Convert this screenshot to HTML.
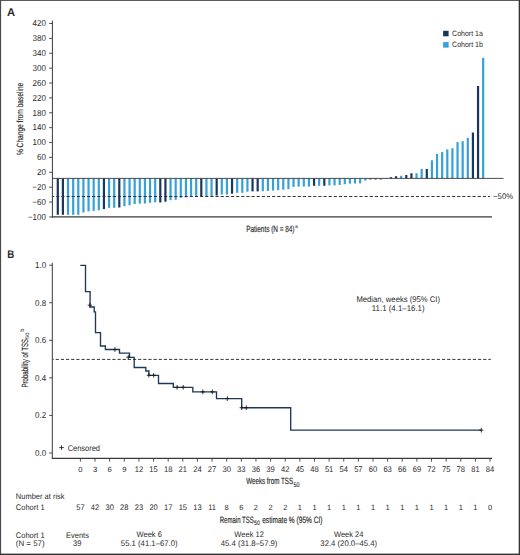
<!DOCTYPE html><html><head><meta charset="utf-8"><style>html,body{margin:0;padding:0;background:#fff;}svg{display:block;}svg text{text-rendering:geometricPrecision;}text{font-family:"Liberation Sans",sans-serif;fill:#2a2a2a;}</style></head><body>
<svg width="520" height="555" viewBox="0 0 520 555">
<rect x="0" y="0" width="520" height="555" fill="#fff"/>
<text x="6.9" y="16.2" font-size="11.2" font-weight="bold">A</text>
<line x1="52.4" y1="20.6" x2="52.4" y2="217.4" stroke="#3a3a3a" stroke-width="1"/>
<line x1="49.2" y1="23.50" x2="52.4" y2="23.50" stroke="#3a3a3a" stroke-width="0.9"/>
<text x="45.9" y="26.30" font-size="8.64" text-anchor="end" textLength="13.35" lengthAdjust="spacingAndGlyphs">420</text>
<line x1="49.2" y1="38.38" x2="52.4" y2="38.38" stroke="#3a3a3a" stroke-width="0.9"/>
<text x="45.9" y="41.18" font-size="8.64" text-anchor="end" textLength="13.35" lengthAdjust="spacingAndGlyphs">380</text>
<line x1="49.2" y1="53.26" x2="52.4" y2="53.26" stroke="#3a3a3a" stroke-width="0.9"/>
<text x="45.9" y="56.06" font-size="8.64" text-anchor="end" textLength="13.35" lengthAdjust="spacingAndGlyphs">340</text>
<line x1="49.2" y1="68.14" x2="52.4" y2="68.14" stroke="#3a3a3a" stroke-width="0.9"/>
<text x="45.9" y="70.94" font-size="8.64" text-anchor="end" textLength="13.35" lengthAdjust="spacingAndGlyphs">300</text>
<line x1="49.2" y1="83.02" x2="52.4" y2="83.02" stroke="#3a3a3a" stroke-width="0.9"/>
<text x="45.9" y="85.82" font-size="8.64" text-anchor="end" textLength="13.35" lengthAdjust="spacingAndGlyphs">260</text>
<line x1="49.2" y1="97.90" x2="52.4" y2="97.90" stroke="#3a3a3a" stroke-width="0.9"/>
<text x="45.9" y="100.70" font-size="8.64" text-anchor="end" textLength="13.35" lengthAdjust="spacingAndGlyphs">220</text>
<line x1="49.2" y1="112.78" x2="52.4" y2="112.78" stroke="#3a3a3a" stroke-width="0.9"/>
<text x="45.9" y="115.58" font-size="8.64" text-anchor="end" textLength="13.35" lengthAdjust="spacingAndGlyphs">180</text>
<line x1="49.2" y1="127.66" x2="52.4" y2="127.66" stroke="#3a3a3a" stroke-width="0.9"/>
<text x="45.9" y="130.46" font-size="8.64" text-anchor="end" textLength="13.35" lengthAdjust="spacingAndGlyphs">140</text>
<line x1="49.2" y1="142.54" x2="52.4" y2="142.54" stroke="#3a3a3a" stroke-width="0.9"/>
<text x="45.9" y="145.34" font-size="8.64" text-anchor="end" textLength="13.35" lengthAdjust="spacingAndGlyphs">100</text>
<line x1="49.2" y1="157.42" x2="52.4" y2="157.42" stroke="#3a3a3a" stroke-width="0.9"/>
<text x="45.9" y="160.22" font-size="8.64" text-anchor="end" textLength="8.9" lengthAdjust="spacingAndGlyphs">60</text>
<line x1="49.2" y1="172.30" x2="52.4" y2="172.30" stroke="#3a3a3a" stroke-width="0.9"/>
<text x="45.9" y="175.10" font-size="8.64" text-anchor="end" textLength="8.9" lengthAdjust="spacingAndGlyphs">20</text>
<line x1="49.2" y1="187.18" x2="52.4" y2="187.18" stroke="#3a3a3a" stroke-width="0.9"/>
<text x="45.9" y="189.98" font-size="8.64" text-anchor="end" textLength="13.57" lengthAdjust="spacingAndGlyphs">−20</text>
<line x1="49.2" y1="202.06" x2="52.4" y2="202.06" stroke="#3a3a3a" stroke-width="0.9"/>
<text x="45.9" y="204.86" font-size="8.64" text-anchor="end" textLength="13.57" lengthAdjust="spacingAndGlyphs">−60</text>
<line x1="49.2" y1="216.94" x2="52.4" y2="216.94" stroke="#3a3a3a" stroke-width="0.9"/>
<text x="45.9" y="219.74" font-size="8.64" text-anchor="end" textLength="18.02" lengthAdjust="spacingAndGlyphs">−100</text>
<line x1="51.9" y1="216.9" x2="492" y2="216.9" stroke="#3a3a3a" stroke-width="1.1"/>
<rect x="56.70" y="178.40" width="2.2" height="36.40" fill="#1b365d"/>
<rect x="61.82" y="178.40" width="2.2" height="36.40" fill="#1b365d"/>
<rect x="66.95" y="178.40" width="2.2" height="36.40" fill="#36a1d8"/>
<rect x="72.08" y="178.40" width="2.2" height="36.40" fill="#36a1d8"/>
<rect x="77.20" y="178.40" width="2.2" height="36.40" fill="#36a1d8"/>
<rect x="82.33" y="178.40" width="2.2" height="34.10" fill="#36a1d8"/>
<rect x="87.45" y="178.40" width="2.2" height="33.00" fill="#36a1d8"/>
<rect x="92.58" y="178.40" width="2.2" height="32.50" fill="#36a1d8"/>
<rect x="97.70" y="178.40" width="2.2" height="31.80" fill="#36a1d8"/>
<rect x="102.83" y="178.40" width="2.2" height="30.70" fill="#1b365d"/>
<rect x="107.95" y="178.40" width="2.2" height="29.40" fill="#36a1d8"/>
<rect x="113.08" y="178.40" width="2.2" height="29.40" fill="#36a1d8"/>
<rect x="118.20" y="178.40" width="2.2" height="29.10" fill="#1b365d"/>
<rect x="123.33" y="178.40" width="2.2" height="27.90" fill="#36a1d8"/>
<rect x="128.45" y="178.40" width="2.2" height="26.90" fill="#36a1d8"/>
<rect x="133.58" y="178.40" width="2.2" height="25.60" fill="#36a1d8"/>
<rect x="138.70" y="178.40" width="2.2" height="25.30" fill="#36a1d8"/>
<rect x="143.83" y="178.40" width="2.2" height="25.10" fill="#36a1d8"/>
<rect x="148.95" y="178.40" width="2.2" height="24.40" fill="#36a1d8"/>
<rect x="154.08" y="178.40" width="2.2" height="23.80" fill="#36a1d8"/>
<rect x="159.20" y="178.40" width="2.2" height="24.10" fill="#1b365d"/>
<rect x="164.33" y="178.40" width="2.2" height="23.30" fill="#1b365d"/>
<rect x="169.45" y="178.40" width="2.2" height="21.80" fill="#36a1d8"/>
<rect x="174.58" y="178.40" width="2.2" height="21.40" fill="#36a1d8"/>
<rect x="179.70" y="178.40" width="2.2" height="19.40" fill="#36a1d8"/>
<rect x="184.83" y="178.40" width="2.2" height="19.00" fill="#36a1d8"/>
<rect x="189.95" y="178.40" width="2.2" height="18.20" fill="#36a1d8"/>
<rect x="195.08" y="178.40" width="2.2" height="18.20" fill="#36a1d8"/>
<rect x="200.20" y="178.40" width="2.2" height="18.20" fill="#1b365d"/>
<rect x="205.33" y="178.40" width="2.2" height="17.80" fill="#36a1d8"/>
<rect x="210.45" y="178.40" width="2.2" height="17.60" fill="#36a1d8"/>
<rect x="215.58" y="178.40" width="2.2" height="17.10" fill="#1b365d"/>
<rect x="220.70" y="178.40" width="2.2" height="16.10" fill="#36a1d8"/>
<rect x="225.83" y="178.40" width="2.2" height="16.10" fill="#36a1d8"/>
<rect x="230.95" y="178.40" width="2.2" height="15.30" fill="#1b365d"/>
<rect x="236.08" y="178.40" width="2.2" height="14.40" fill="#36a1d8"/>
<rect x="241.20" y="178.40" width="2.2" height="14.40" fill="#36a1d8"/>
<rect x="246.33" y="178.40" width="2.2" height="13.30" fill="#36a1d8"/>
<rect x="251.45" y="178.40" width="2.2" height="13.00" fill="#1b365d"/>
<rect x="256.57" y="178.40" width="2.2" height="13.00" fill="#1b365d"/>
<rect x="261.70" y="178.40" width="2.2" height="12.80" fill="#36a1d8"/>
<rect x="266.82" y="178.40" width="2.2" height="12.50" fill="#36a1d8"/>
<rect x="271.95" y="178.40" width="2.2" height="12.20" fill="#36a1d8"/>
<rect x="277.07" y="178.40" width="2.2" height="11.70" fill="#36a1d8"/>
<rect x="282.20" y="178.40" width="2.2" height="11.30" fill="#36a1d8"/>
<rect x="287.32" y="178.40" width="2.2" height="10.80" fill="#36a1d8"/>
<rect x="292.45" y="178.40" width="2.2" height="8.50" fill="#36a1d8"/>
<rect x="297.57" y="178.40" width="2.2" height="8.20" fill="#36a1d8"/>
<rect x="302.70" y="178.40" width="2.2" height="8.20" fill="#36a1d8"/>
<rect x="307.82" y="178.40" width="2.2" height="8.20" fill="#36a1d8"/>
<rect x="312.95" y="178.40" width="2.2" height="7.40" fill="#1b365d"/>
<rect x="318.07" y="178.40" width="2.2" height="7.40" fill="#36a1d8"/>
<rect x="323.20" y="178.40" width="2.2" height="7.40" fill="#1b365d"/>
<rect x="328.32" y="178.40" width="2.2" height="7.00" fill="#36a1d8"/>
<rect x="333.45" y="178.40" width="2.2" height="7.00" fill="#36a1d8"/>
<rect x="338.57" y="178.40" width="2.2" height="6.50" fill="#36a1d8"/>
<rect x="343.70" y="178.40" width="2.2" height="5.80" fill="#36a1d8"/>
<rect x="348.82" y="178.40" width="2.2" height="5.20" fill="#36a1d8"/>
<rect x="353.95" y="178.40" width="2.2" height="5.10" fill="#36a1d8"/>
<rect x="359.07" y="178.40" width="2.2" height="5.00" fill="#36a1d8"/>
<rect x="364.20" y="178.40" width="2.2" height="2.20" fill="#36a1d8"/>
<rect x="369.32" y="178.40" width="2.2" height="1.10" fill="#1b365d"/>
<rect x="374.45" y="178.40" width="2.2" height="1.10" fill="#1b365d"/>
<rect x="379.57" y="178.40" width="2.2" height="1.00" fill="#1b365d"/>
<rect x="384.70" y="178.40" width="2.2" height="0.30" fill="#1b365d"/>
<rect x="389.82" y="177.20" width="2.2" height="1.20" fill="#1b365d"/>
<rect x="394.95" y="176.20" width="2.2" height="2.20" fill="#1b365d"/>
<rect x="400.07" y="175.80" width="2.2" height="2.60" fill="#36a1d8"/>
<rect x="405.20" y="175.00" width="2.2" height="3.40" fill="#1b365d"/>
<rect x="410.32" y="173.30" width="2.2" height="5.10" fill="#1b365d"/>
<rect x="415.45" y="173.30" width="2.2" height="5.10" fill="#36a1d8"/>
<rect x="420.57" y="168.90" width="2.2" height="9.50" fill="#36a1d8"/>
<rect x="425.70" y="168.90" width="2.2" height="9.50" fill="#1b365d"/>
<rect x="430.82" y="160.30" width="2.2" height="18.10" fill="#36a1d8"/>
<rect x="435.95" y="153.90" width="2.2" height="24.50" fill="#36a1d8"/>
<rect x="441.07" y="152.10" width="2.2" height="26.30" fill="#36a1d8"/>
<rect x="446.20" y="149.40" width="2.2" height="29.00" fill="#36a1d8"/>
<rect x="451.32" y="148.20" width="2.2" height="30.20" fill="#36a1d8"/>
<rect x="456.45" y="142.10" width="2.2" height="36.30" fill="#36a1d8"/>
<rect x="461.57" y="141.20" width="2.2" height="37.20" fill="#36a1d8"/>
<rect x="466.70" y="137.80" width="2.2" height="40.60" fill="#36a1d8"/>
<rect x="471.82" y="132.50" width="2.2" height="45.90" fill="#1b365d"/>
<rect x="476.95" y="86.00" width="2.2" height="92.40" fill="#1b365d"/>
<rect x="482.07" y="57.80" width="2.2" height="120.60" fill="#36a1d8"/>
<line x1="52.4" y1="178.4" x2="503.5" y2="178.4" stroke="#3a3a3a" stroke-width="0.9"/>
<line x1="52.6" y1="196.5" x2="490" y2="196.5" stroke="#333" stroke-width="1" stroke-dasharray="3.14 2.0" stroke-dashoffset="1.54"/>
<text x="493.1" y="199.4" font-size="8.1" textLength="20.0" lengthAdjust="spacingAndGlyphs">−50%</text>
<rect x="443.1" y="30.8" width="5.5" height="5.5" fill="#1b365d"/>
<rect x="443.1" y="42.1" width="5.5" height="5.5" fill="#36a1d8"/>
<text x="452.1" y="36.3" font-size="7.8" textLength="30.8" lengthAdjust="spacingAndGlyphs">Cohort 1a</text>
<text x="452.1" y="47.4" font-size="7.8" textLength="30.8" lengthAdjust="spacingAndGlyphs">Cohort 1b</text>
<text x="246.2" y="231.8" font-size="9.0" textLength="48.3" lengthAdjust="spacingAndGlyphs" stroke="#2a2a2a" stroke-width="0.18">Patients (N = 84)</text>
<text x="295.0" y="227.6" font-size="5.2" textLength="2.8" lengthAdjust="spacingAndGlyphs">a</text>
<text transform="translate(23.3,155.1) rotate(-90)" x="0" y="0" font-size="9.0" stroke="#2a2a2a" stroke-width="0.15" textLength="72.4" lengthAdjust="spacingAndGlyphs">% Change from baseline</text>
<text x="7.2" y="257.9" font-size="11.0" textLength="7.0" lengthAdjust="spacingAndGlyphs" font-weight="bold">B</text>
<line x1="52.3" y1="262.9" x2="52.3" y2="458.9" stroke="#3a3a3a" stroke-width="1"/>
<line x1="49.2" y1="265.20" x2="52.3" y2="265.20" stroke="#3a3a3a" stroke-width="0.9"/>
<text x="46.2" y="268.00" font-size="8.64" text-anchor="end" textLength="11.12" lengthAdjust="spacingAndGlyphs">1.0</text>
<line x1="49.2" y1="302.76" x2="52.3" y2="302.76" stroke="#3a3a3a" stroke-width="0.9"/>
<text x="46.2" y="305.56" font-size="8.64" text-anchor="end" textLength="11.12" lengthAdjust="spacingAndGlyphs">0.8</text>
<line x1="49.2" y1="340.32" x2="52.3" y2="340.32" stroke="#3a3a3a" stroke-width="0.9"/>
<text x="46.2" y="343.12" font-size="8.64" text-anchor="end" textLength="11.12" lengthAdjust="spacingAndGlyphs">0.6</text>
<line x1="49.2" y1="377.88" x2="52.3" y2="377.88" stroke="#3a3a3a" stroke-width="0.9"/>
<text x="46.2" y="380.68" font-size="8.64" text-anchor="end" textLength="11.12" lengthAdjust="spacingAndGlyphs">0.4</text>
<line x1="49.2" y1="415.44" x2="52.3" y2="415.44" stroke="#3a3a3a" stroke-width="0.9"/>
<text x="46.2" y="418.24" font-size="8.64" text-anchor="end" textLength="11.12" lengthAdjust="spacingAndGlyphs">0.2</text>
<line x1="49.2" y1="453.00" x2="52.3" y2="453.00" stroke="#3a3a3a" stroke-width="0.9"/>
<text x="46.2" y="455.80" font-size="8.64" text-anchor="end" textLength="11.12" lengthAdjust="spacingAndGlyphs">0.0</text>
<line x1="51.8" y1="458.4" x2="492" y2="458.4" stroke="#3a3a3a" stroke-width="1.1"/>
<line x1="80.40" y1="458.4" x2="80.40" y2="461.6" stroke="#3a3a3a" stroke-width="0.9"/>
<text x="80.40" y="471.7" font-size="7.6" text-anchor="middle">0</text>
<line x1="95.03" y1="458.4" x2="95.03" y2="461.6" stroke="#3a3a3a" stroke-width="0.9"/>
<text x="95.03" y="471.7" font-size="7.6" text-anchor="middle">3</text>
<line x1="109.66" y1="458.4" x2="109.66" y2="461.6" stroke="#3a3a3a" stroke-width="0.9"/>
<text x="109.66" y="471.7" font-size="7.6" text-anchor="middle">6</text>
<line x1="124.29" y1="458.4" x2="124.29" y2="461.6" stroke="#3a3a3a" stroke-width="0.9"/>
<text x="124.29" y="471.7" font-size="7.6" text-anchor="middle">9</text>
<line x1="138.92" y1="458.4" x2="138.92" y2="461.6" stroke="#3a3a3a" stroke-width="0.9"/>
<text x="138.92" y="471.7" font-size="8.21" text-anchor="middle" textLength="8.45" lengthAdjust="spacingAndGlyphs">12</text>
<line x1="153.55" y1="458.4" x2="153.55" y2="461.6" stroke="#3a3a3a" stroke-width="0.9"/>
<text x="153.55" y="471.7" font-size="8.21" text-anchor="middle" textLength="8.45" lengthAdjust="spacingAndGlyphs">15</text>
<line x1="168.18" y1="458.4" x2="168.18" y2="461.6" stroke="#3a3a3a" stroke-width="0.9"/>
<text x="168.18" y="471.7" font-size="8.21" text-anchor="middle" textLength="8.45" lengthAdjust="spacingAndGlyphs">18</text>
<line x1="182.81" y1="458.4" x2="182.81" y2="461.6" stroke="#3a3a3a" stroke-width="0.9"/>
<text x="182.81" y="471.7" font-size="8.21" text-anchor="middle" textLength="8.45" lengthAdjust="spacingAndGlyphs">21</text>
<line x1="197.44" y1="458.4" x2="197.44" y2="461.6" stroke="#3a3a3a" stroke-width="0.9"/>
<text x="197.44" y="471.7" font-size="8.21" text-anchor="middle" textLength="8.45" lengthAdjust="spacingAndGlyphs">24</text>
<line x1="212.07" y1="458.4" x2="212.07" y2="461.6" stroke="#3a3a3a" stroke-width="0.9"/>
<text x="212.07" y="471.7" font-size="8.21" text-anchor="middle" textLength="8.45" lengthAdjust="spacingAndGlyphs">27</text>
<line x1="226.70" y1="458.4" x2="226.70" y2="461.6" stroke="#3a3a3a" stroke-width="0.9"/>
<text x="226.70" y="471.7" font-size="8.21" text-anchor="middle" textLength="8.45" lengthAdjust="spacingAndGlyphs">30</text>
<line x1="241.33" y1="458.4" x2="241.33" y2="461.6" stroke="#3a3a3a" stroke-width="0.9"/>
<text x="241.33" y="471.7" font-size="8.21" text-anchor="middle" textLength="8.45" lengthAdjust="spacingAndGlyphs">33</text>
<line x1="255.96" y1="458.4" x2="255.96" y2="461.6" stroke="#3a3a3a" stroke-width="0.9"/>
<text x="255.96" y="471.7" font-size="8.21" text-anchor="middle" textLength="8.45" lengthAdjust="spacingAndGlyphs">36</text>
<line x1="270.59" y1="458.4" x2="270.59" y2="461.6" stroke="#3a3a3a" stroke-width="0.9"/>
<text x="270.59" y="471.7" font-size="8.21" text-anchor="middle" textLength="8.45" lengthAdjust="spacingAndGlyphs">39</text>
<line x1="285.22" y1="458.4" x2="285.22" y2="461.6" stroke="#3a3a3a" stroke-width="0.9"/>
<text x="285.22" y="471.7" font-size="8.21" text-anchor="middle" textLength="8.45" lengthAdjust="spacingAndGlyphs">42</text>
<line x1="299.85" y1="458.4" x2="299.85" y2="461.6" stroke="#3a3a3a" stroke-width="0.9"/>
<text x="299.85" y="471.7" font-size="8.21" text-anchor="middle" textLength="8.45" lengthAdjust="spacingAndGlyphs">45</text>
<line x1="314.48" y1="458.4" x2="314.48" y2="461.6" stroke="#3a3a3a" stroke-width="0.9"/>
<text x="314.48" y="471.7" font-size="8.21" text-anchor="middle" textLength="8.45" lengthAdjust="spacingAndGlyphs">48</text>
<line x1="329.11" y1="458.4" x2="329.11" y2="461.6" stroke="#3a3a3a" stroke-width="0.9"/>
<text x="329.11" y="471.7" font-size="8.21" text-anchor="middle" textLength="8.45" lengthAdjust="spacingAndGlyphs">51</text>
<line x1="343.74" y1="458.4" x2="343.74" y2="461.6" stroke="#3a3a3a" stroke-width="0.9"/>
<text x="343.74" y="471.7" font-size="8.21" text-anchor="middle" textLength="8.45" lengthAdjust="spacingAndGlyphs">54</text>
<line x1="358.37" y1="458.4" x2="358.37" y2="461.6" stroke="#3a3a3a" stroke-width="0.9"/>
<text x="358.37" y="471.7" font-size="8.21" text-anchor="middle" textLength="8.45" lengthAdjust="spacingAndGlyphs">57</text>
<line x1="373.00" y1="458.4" x2="373.00" y2="461.6" stroke="#3a3a3a" stroke-width="0.9"/>
<text x="373.00" y="471.7" font-size="8.21" text-anchor="middle" textLength="8.45" lengthAdjust="spacingAndGlyphs">60</text>
<line x1="387.63" y1="458.4" x2="387.63" y2="461.6" stroke="#3a3a3a" stroke-width="0.9"/>
<text x="387.63" y="471.7" font-size="8.21" text-anchor="middle" textLength="8.45" lengthAdjust="spacingAndGlyphs">63</text>
<line x1="402.26" y1="458.4" x2="402.26" y2="461.6" stroke="#3a3a3a" stroke-width="0.9"/>
<text x="402.26" y="471.7" font-size="8.21" text-anchor="middle" textLength="8.45" lengthAdjust="spacingAndGlyphs">66</text>
<line x1="416.89" y1="458.4" x2="416.89" y2="461.6" stroke="#3a3a3a" stroke-width="0.9"/>
<text x="416.89" y="471.7" font-size="8.21" text-anchor="middle" textLength="8.45" lengthAdjust="spacingAndGlyphs">69</text>
<line x1="431.52" y1="458.4" x2="431.52" y2="461.6" stroke="#3a3a3a" stroke-width="0.9"/>
<text x="431.52" y="471.7" font-size="8.21" text-anchor="middle" textLength="8.45" lengthAdjust="spacingAndGlyphs">72</text>
<line x1="446.15" y1="458.4" x2="446.15" y2="461.6" stroke="#3a3a3a" stroke-width="0.9"/>
<text x="446.15" y="471.7" font-size="8.21" text-anchor="middle" textLength="8.45" lengthAdjust="spacingAndGlyphs">75</text>
<line x1="460.78" y1="458.4" x2="460.78" y2="461.6" stroke="#3a3a3a" stroke-width="0.9"/>
<text x="460.78" y="471.7" font-size="8.21" text-anchor="middle" textLength="8.45" lengthAdjust="spacingAndGlyphs">78</text>
<line x1="475.41" y1="458.4" x2="475.41" y2="461.6" stroke="#3a3a3a" stroke-width="0.9"/>
<text x="475.41" y="471.7" font-size="8.21" text-anchor="middle" textLength="8.45" lengthAdjust="spacingAndGlyphs">81</text>
<line x1="490.04" y1="458.4" x2="490.04" y2="461.6" stroke="#3a3a3a" stroke-width="0.9"/>
<text x="490.04" y="471.7" font-size="8.21" text-anchor="middle" textLength="8.45" lengthAdjust="spacingAndGlyphs">84</text>
<line x1="52.6" y1="359.4" x2="490.8" y2="359.4" stroke="#333" stroke-width="1" stroke-dasharray="3.15 2.0" stroke-dashoffset="2.03"/>
<path d="M80.3,265.4 H85.5 V291.6 H90.1 V307 H94.2 V311.9 H95.5 V332.6 H100.5 V346 H105.4 V349.5 H119.5 V353.1 H129.5 V357.4 H134.2 V367.5 H145.8 V371 H148.9 V375.3 H158.5 V383.5 H173.3 V387.3 H192.8 V391.9 H216.5 V398.6 H241.7 V407.7 H290.7 V430.1 H481.3" fill="none" stroke="#1d3859" stroke-width="1.35" stroke-linejoin="miter" stroke-linecap="butt"/>
<path d="M87.70,305.2 H91.90 M89.8,302.90 V307.50" stroke="#1a1a1a" stroke-width="0.9" fill="none"/>
<path d="M112.80,349.5 H117.00 M114.9,347.20 V351.80" stroke="#1a1a1a" stroke-width="0.9" fill="none"/>
<path d="M126.20,357.2 H130.40 M128.3,354.90 V359.50" stroke="#1a1a1a" stroke-width="0.9" fill="none"/>
<path d="M146.80,375.3 H151.00 M148.9,373.00 V377.60" stroke="#1a1a1a" stroke-width="0.9" fill="none"/>
<path d="M151.60,375.3 H155.80 M153.7,373.00 V377.60" stroke="#1a1a1a" stroke-width="0.9" fill="none"/>
<path d="M175.00,387.3 H179.20 M177.1,385.00 V389.60" stroke="#1a1a1a" stroke-width="0.9" fill="none"/>
<path d="M181.10,387.3 H185.30 M183.2,385.00 V389.60" stroke="#1a1a1a" stroke-width="0.9" fill="none"/>
<path d="M200.70,391.9 H204.90 M202.8,389.60 V394.20" stroke="#1a1a1a" stroke-width="0.9" fill="none"/>
<path d="M210.20,391.9 H214.40 M212.3,389.60 V394.20" stroke="#1a1a1a" stroke-width="0.9" fill="none"/>
<path d="M225.20,398.6 H229.40 M227.3,396.30 V400.90" stroke="#1a1a1a" stroke-width="0.9" fill="none"/>
<path d="M239.60,407.7 H243.80 M241.7,405.40 V410.00" stroke="#1a1a1a" stroke-width="0.9" fill="none"/>
<path d="M244.20,407.7 H248.40 M246.3,405.40 V410.00" stroke="#1a1a1a" stroke-width="0.9" fill="none"/>
<path d="M479.20,430.2 H483.40 M481.3,427.90 V432.50" stroke="#1a1a1a" stroke-width="0.9" fill="none"/>
<path d="M59.2,447.6 H63.8 M61.5,445.3 V449.9" stroke="#222" stroke-width="0.9" fill="none"/>
<text x="67.7" y="450.9" font-size="8.3" textLength="32.3" lengthAdjust="spacingAndGlyphs">Censored</text>
<text x="398.2" y="302.1" font-size="8.2" text-anchor="middle" textLength="83.6" lengthAdjust="spacingAndGlyphs">Median, weeks (95% CI)</text>
<text x="398.2" y="310.9" font-size="8.2" text-anchor="middle" textLength="52.8" lengthAdjust="spacingAndGlyphs">11.1 (4.1–16.1)</text>
<text x="246.2" y="483.9" font-size="9.1" textLength="46.9" lengthAdjust="spacingAndGlyphs" stroke="#2a2a2a" stroke-width="0.18">Weeks from TSS</text>
<text x="293.4" y="486.6" font-size="6.6" textLength="6.0" lengthAdjust="spacingAndGlyphs" stroke="#2a2a2a" stroke-width="0.12">50</text>
<text transform="translate(27.9,387.5) rotate(-90)" x="0" y="0" font-size="9.0" stroke="#2a2a2a" stroke-width="0.15"><tspan textLength="48.6" lengthAdjust="spacingAndGlyphs">Probability of TSS</tspan></text>
<text transform="translate(29.3,338.9) rotate(-90)" x="0" y="0" font-size="5.2" textLength="6.5" lengthAdjust="spacingAndGlyphs">50</text>
<text transform="translate(24.0,331.8) rotate(-90)" x="0" y="0" font-size="5.6" textLength="3.2" lengthAdjust="spacingAndGlyphs">b</text>
<text x="15.8" y="498.5" font-size="8.1" textLength="48.76" lengthAdjust="spacingAndGlyphs">Number at risk</text>
<text x="15.8" y="510.2" font-size="8.1" textLength="28.77" lengthAdjust="spacingAndGlyphs">Cohort 1</text>
<text x="80.40" y="510.4" font-size="8.1" text-anchor="middle" textLength="8.34" lengthAdjust="spacingAndGlyphs">57</text>
<text x="95.03" y="510.4" font-size="8.1" text-anchor="middle" textLength="8.34" lengthAdjust="spacingAndGlyphs">42</text>
<text x="109.66" y="510.4" font-size="8.1" text-anchor="middle" textLength="8.34" lengthAdjust="spacingAndGlyphs">30</text>
<text x="124.29" y="510.4" font-size="8.1" text-anchor="middle" textLength="8.34" lengthAdjust="spacingAndGlyphs">28</text>
<text x="138.92" y="510.4" font-size="8.1" text-anchor="middle" textLength="8.34" lengthAdjust="spacingAndGlyphs">23</text>
<text x="153.55" y="510.4" font-size="8.1" text-anchor="middle" textLength="8.34" lengthAdjust="spacingAndGlyphs">20</text>
<text x="168.18" y="510.4" font-size="8.1" text-anchor="middle" textLength="8.34" lengthAdjust="spacingAndGlyphs">17</text>
<text x="182.81" y="510.4" font-size="8.1" text-anchor="middle" textLength="8.34" lengthAdjust="spacingAndGlyphs">15</text>
<text x="197.44" y="510.4" font-size="8.1" text-anchor="middle" textLength="8.34" lengthAdjust="spacingAndGlyphs">13</text>
<text x="212.07" y="510.4" font-size="8.1" text-anchor="middle" textLength="7.79" lengthAdjust="spacingAndGlyphs">11</text>
<text x="226.70" y="510.4" font-size="7.5" text-anchor="middle">8</text>
<text x="241.33" y="510.4" font-size="7.5" text-anchor="middle">6</text>
<text x="255.96" y="510.4" font-size="7.5" text-anchor="middle">2</text>
<text x="270.59" y="510.4" font-size="7.5" text-anchor="middle">2</text>
<text x="285.22" y="510.4" font-size="7.5" text-anchor="middle">2</text>
<text x="299.85" y="510.4" font-size="7.5" text-anchor="middle">1</text>
<text x="314.48" y="510.4" font-size="7.5" text-anchor="middle">1</text>
<text x="329.11" y="510.4" font-size="7.5" text-anchor="middle">1</text>
<text x="343.74" y="510.4" font-size="7.5" text-anchor="middle">1</text>
<text x="358.37" y="510.4" font-size="7.5" text-anchor="middle">1</text>
<text x="373.00" y="510.4" font-size="7.5" text-anchor="middle">1</text>
<text x="387.63" y="510.4" font-size="7.5" text-anchor="middle">1</text>
<text x="402.26" y="510.4" font-size="7.5" text-anchor="middle">1</text>
<text x="416.89" y="510.4" font-size="7.5" text-anchor="middle">1</text>
<text x="431.52" y="510.4" font-size="7.5" text-anchor="middle">1</text>
<text x="446.15" y="510.4" font-size="7.5" text-anchor="middle">1</text>
<text x="460.78" y="510.4" font-size="7.5" text-anchor="middle">1</text>
<text x="475.41" y="510.4" font-size="7.5" text-anchor="middle">1</text>
<text x="490.04" y="510.4" font-size="7.5" text-anchor="middle">0</text>
<text x="219.7" y="522.9" font-size="9.2" textLength="34.2" lengthAdjust="spacingAndGlyphs" stroke="#2a2a2a" stroke-width="0.18">Remain TSS</text>
<text x="254.1" y="525.0" font-size="6.3" textLength="5.7" lengthAdjust="spacingAndGlyphs" stroke="#2a2a2a" stroke-width="0.12">50</text>
<text x="262.2" y="522.9" font-size="9.2" textLength="60.3" lengthAdjust="spacingAndGlyphs" stroke="#2a2a2a" stroke-width="0.18">estimate % (95% CI)</text>
<text x="15.8" y="537.7" font-size="8.1" textLength="28.77" lengthAdjust="spacingAndGlyphs">Cohort 1</text>
<text x="15.8" y="546.2" font-size="8.1" textLength="28.8" lengthAdjust="spacingAndGlyphs">(N = 57)</text>
<text x="77.5" y="537.7" font-size="8.1" text-anchor="middle" textLength="22.93" lengthAdjust="spacingAndGlyphs">Events</text>
<text x="77.2" y="546.2" font-size="8.1" text-anchor="middle" textLength="8.34" lengthAdjust="spacingAndGlyphs">39</text>
<text x="149.2" y="537.2" font-size="8.1" text-anchor="middle" textLength="25.29" lengthAdjust="spacingAndGlyphs">Week 6</text>
<text x="149.2" y="546.2" font-size="8.1" text-anchor="middle" textLength="56.7" lengthAdjust="spacingAndGlyphs">55.1 (41.1–67.0)</text>
<text x="249.1" y="537.2" font-size="8.1" text-anchor="middle" textLength="29.46" lengthAdjust="spacingAndGlyphs">Week 12</text>
<text x="249.1" y="546.2" font-size="8.1" text-anchor="middle" textLength="56.7" lengthAdjust="spacingAndGlyphs">45.4 (31.8–57.9)</text>
<text x="348.7" y="537.2" font-size="8.1" text-anchor="middle" textLength="29.46" lengthAdjust="spacingAndGlyphs">Week 24</text>
<text x="348.7" y="546.2" font-size="8.1" text-anchor="middle" textLength="56.7" lengthAdjust="spacingAndGlyphs">32.4 (20.0–45.4)</text>
<rect x="0" y="0" width="520" height="1" fill="#5a5a5a"/>
<rect x="0" y="0" width="1.1" height="555" fill="#4a4a4a"/>
<rect x="518.7" y="0" width="1.3" height="555" fill="#333"/>
<rect x="0" y="553.6" width="520" height="1.4" fill="#333"/>
</svg></body></html>
